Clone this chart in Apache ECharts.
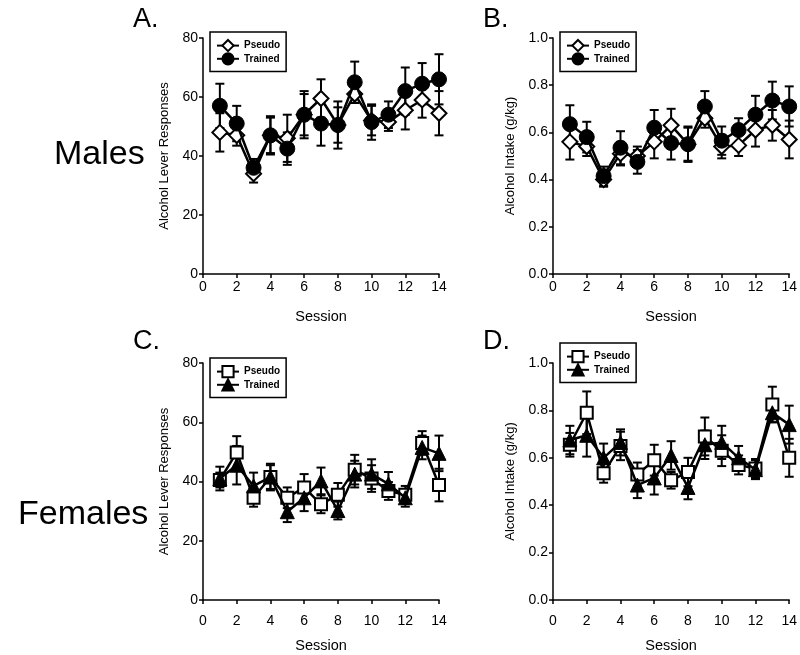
<!DOCTYPE html>
<html><head><meta charset="utf-8">
<script src="https://cdn.jsdelivr.net/npm/echarts@6/dist/echarts.min.js"></script>
<style>html,body{margin:0;padding:0;background:#fff}#c{width:800px;height:655px}</style>
</head><body><div id="c"></div>
<script>
// ---- data ----
const sessions = [1,2,3,4,5,6,7,8,9,10,11,12,13,14];
const leverTicks = [0,20,40,60,80];
const intakeTicks = [0.0,0.2,0.4,0.6,0.8,1.0];
const sessionTicks = [0,2,4,6,8,10,12,14];

// Males – Alcohol Lever Responses (A)
const malesLeverPseudo     = [48,47,34,47,46,54,59.5,50.5,61,52,51.5,55.5,59,54.5];
const malesLeverPseudoSEM  = [6.5,3.5,3,6,8,7,6.5,6,3,5,3,6.5,6,7.5];
const malesLeverTrained    = [57,51,36,47,42.5,54,51,50.5,65,51.5,54,62,64.5,66];
const malesLeverTrainedSEM = [7.5,6,3,6.5,5.5,8,7.5,8,7,6,4.5,8,7,8.5];

// Males – Alcohol Intake (B)
const malesIntakePseudo     = [0.56,0.54,0.40,0.51,0.50,0.56,0.63,0.55,0.66,0.54,0.545,0.61,0.63,0.57];
const malesIntakePseudoSEM  = [0.075,0.04,0.03,0.05,0.04,0.07,0.07,0.07,0.04,0.05,0.045,0.07,0.065,0.08];
const malesIntakeTrained    = [0.635,0.58,0.415,0.535,0.475,0.62,0.555,0.55,0.71,0.565,0.61,0.675,0.735,0.71];
const malesIntakeTrainedSEM = [0.08,0.065,0.04,0.07,0.05,0.075,0.07,0.075,0.065,0.06,0.05,0.08,0.08,0.085];

// Females – Alcohol Lever Responses (C)
const femalesLeverPseudo     = [40.5,49.8,34.5,41.5,34.5,38,32.3,35.5,44,41,36.8,35.5,53,38.8];
const femalesLeverPseudoSEM  = [2.5,5.5,3,4,3.5,4.5,3,4,5,4.5,3,3,4,5.5];
const femalesLeverTrained    = [41,45.5,38.5,41.5,29.8,34.5,40.2,30.2,42.5,42.5,39.2,34.5,51.5,49.5];
const femalesLeverTrainedSEM = [4,6.5,4.5,4.5,3.5,4.5,4.5,3,4.5,5,4,3,4,6];

// Females – Alcohol Intake (D)
const femalesIntakePseudo     = [0.655,0.79,0.535,0.65,0.53,0.59,0.505,0.54,0.69,0.63,0.57,0.555,0.825,0.60];
const femalesIntakePseudoSEM  = [0.05,0.09,0.04,0.06,0.05,0.065,0.035,0.06,0.08,0.065,0.04,0.04,0.075,0.08];
const femalesIntakeTrained    = [0.675,0.695,0.60,0.665,0.485,0.515,0.61,0.475,0.655,0.665,0.60,0.55,0.79,0.74];
const femalesIntakeTrainedSEM = [0.06,0.09,0.06,0.055,0.055,0.07,0.06,0.05,0.06,0.07,0.05,0.04,0.04,0.08];

const FONT = 'Liberation Sans, Arial, Helvetica, sans-serif';

const panels = [
  {grid:{left:203,top:38,width:236,height:236}, ticks:leverTicks, dec:0, yName:'Alcohol Lever Responses', yNameGap:32,
   pseudo:malesLeverPseudo, pseudoSEM:malesLeverPseudoSEM, trained:malesLeverTrained, trainedSEM:malesLeverTrainedSEM,
   pSym:'diamond', tSym:'circle', pSize:15, tSize:15, labMargin:6, xNameGap:35, legend:{left:210,top:32}},
  {grid:{left:553,top:38,width:237,height:236}, ticks:intakeTicks, dec:1, yName:'Alcohol Intake (g/kg)', yNameGap:36,
   pseudo:malesIntakePseudo, pseudoSEM:malesIntakePseudoSEM, trained:malesIntakeTrained, trainedSEM:malesIntakeTrainedSEM,
   pSym:'diamond', tSym:'circle', pSize:15, tSize:15, labMargin:6, xNameGap:35, legend:{left:560,top:32}},
  {grid:{left:203,top:363,width:236,height:237}, ticks:leverTicks, dec:0, yName:'Alcohol Lever Responses', yNameGap:32,
   pseudo:femalesLeverPseudo, pseudoSEM:femalesLeverPseudoSEM, trained:femalesLeverTrained, trainedSEM:femalesLeverTrainedSEM,
   pSym:'rect', tSym:'triangle', pSize:12, tSize:14, labMargin:14, xNameGap:38, legend:{left:210,top:358}},
  {grid:{left:553,top:363,width:237,height:237}, ticks:intakeTicks, dec:1, yName:'Alcohol Intake (g/kg)', yNameGap:36,
   pseudo:femalesIntakePseudo, pseudoSEM:femalesIntakePseudoSEM, trained:femalesIntakeTrained, trainedSEM:femalesIntakeTrainedSEM,
   pSym:'rect', tSym:'triangle', pSize:12, tSize:14, labMargin:14, xNameGap:38, legend:{left:560,top:343}}
];

function errRender(params, api) {
  const x = api.value(0), y = api.value(1), e = api.value(2);
  const top = api.coord([x, y + e]), bot = api.coord([x, y - e]);
  const w = 4.5;
  const st = {stroke:'#000', lineWidth:2};
  return {type:'group', children:[
    {type:'line', shape:{x1:top[0],y1:top[1],x2:bot[0],y2:bot[1]}, style:st},
    {type:'line', shape:{x1:top[0]-w,y1:top[1],x2:top[0]+w,y2:top[1]}, style:st},
    {type:'line', shape:{x1:bot[0]-w,y1:bot[1],x2:bot[0]+w,y2:bot[1]}, style:st}
  ]};
}

const grids = [], xAxes = [], yAxes = [], series = [], legends = [];
const axisLine = {show:true, lineStyle:{color:'#000', width:1.5}};
const axisTick = {show:true, length:4, inside:false, lineStyle:{color:'#000', width:1.5}};

panels.forEach((p, i) => {
  grids.push(p.grid);
  xAxes.push({gridIndex:i, type:'value', min:sessionTicks[0], max:sessionTicks[sessionTicks.length-1],
    interval:sessionTicks[1]-sessionTicks[0], splitLine:{show:false}, axisLine, axisTick,
    axisLabel:{color:'#000', fontSize:14, fontFamily:FONT, margin:p.labMargin},
    name:'Session', nameLocation:'middle', nameGap:p.xNameGap,
    nameTextStyle:{color:'#000', fontSize:14.5, fontFamily:FONT}});
  yAxes.push({gridIndex:i, type:'value', min:p.ticks[0], max:p.ticks[p.ticks.length-1],
    interval:p.ticks[1]-p.ticks[0], splitLine:{show:false}, axisLine, axisTick,
    axisLabel:{color:'#000', fontSize:14, fontFamily:FONT, margin:5, formatter:v=>v.toFixed(p.dec)},
    name:p.yName, nameLocation:'middle', nameGap:p.yNameGap, nameRotate:90,
    nameTextStyle:{color:'#000', fontSize:13, fontFamily:FONT}});
  const mk = (vals) => sessions.map((s, k) => [s, vals[k]]);
  const mkE = (vals, sem) => sessions.map((s, k) => [s, vals[k], sem[k]]);
  series.push({type:'custom', xAxisIndex:i, yAxisIndex:i, renderItem:errRender, data:mkE(p.pseudo, p.pseudoSEM), z:1, silent:true});
  series.push({type:'custom', xAxisIndex:i, yAxisIndex:i, renderItem:errRender, data:mkE(p.trained, p.trainedSEM), z:1, silent:true});
  series.push({type:'line', name:'Pseudo ' + i, xAxisIndex:i, yAxisIndex:i, data:mk(p.pseudo),
    symbol:p.pSym, symbolSize:p.pSize, showAllSymbol:true, z:2,
    lineStyle:{color:'#000', width:2.5}, itemStyle:{color:'#fff', borderColor:'#000', borderWidth:2}});
  series.push({type:'line', name:'Trained ' + i, xAxisIndex:i, yAxisIndex:i, data:mk(p.trained),
    symbol:p.tSym, symbolSize:p.tSize, showAllSymbol:true, z:3,
    lineStyle:{color:'#000', width:2.5}, itemStyle:{color:'#000', borderColor:'#000', borderWidth:1}});
  legends.push({data:['Pseudo ' + i, 'Trained ' + i], orient:'vertical', left:p.legend.left, top:p.legend.top,
    itemWidth:22, itemHeight:14, itemGap:0, padding:[7,6,6,6], borderColor:'#000', borderWidth:1.5,
    formatter:n => n.split(' ')[0], selectedMode:false,
    textStyle:{color:'#000', fontSize:10, fontWeight:'bold', fontFamily:FONT}});
});

const chart = echarts.init(document.getElementById('c'), null, {renderer:'canvas'});
chart.setOption({
  animation:false,
  backgroundColor:'#fff',
  grid:grids, xAxis:xAxes, yAxis:yAxes, series, legend:legends,
  graphic:[
    {type:'text', left:133, top:6, style:{text:'A.', font:'27px ' + FONT, fill:'#000'}},
    {type:'text', left:483, top:6, style:{text:'B.', font:'27px ' + FONT, fill:'#000'}},
    {type:'text', left:133, top:328, style:{text:'C.', font:'27px ' + FONT, fill:'#000'}},
    {type:'text', left:483, top:328, style:{text:'D.', font:'27px ' + FONT, fill:'#000'}},
    {type:'text', left:54, top:138, style:{text:'Males', font:'34px ' + FONT, fill:'#000'}},
    {type:'text', left:18, top:498, style:{text:'Females', font:'34px ' + FONT, fill:'#000'}}
  ]
});
</script></body></html>
